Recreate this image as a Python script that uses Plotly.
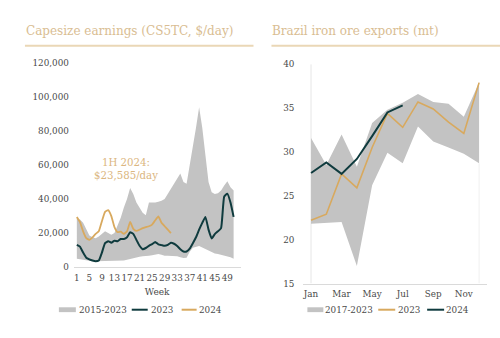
import plotly.graph_objects as go

# ---------------- Left chart: Capesize earnings (CS5TC, $/day) ----------------
weeks = list(range(1, 52))
week_ticks = list(range(1, 50, 4))
earn_tickvals = [0, 20000, 40000, 60000, 80000, 100000, 120000]

band_2015_2023_low = [4800, 4500, 4200, 3800, 3500, 3400, 3400, 3400, 3400, 3400,
                      3400, 3400, 3500, 3600, 3700, 3800, 4300, 4800, 5200, 5700,
                      6000, 6300, 6700, 6700, 6900, 7300, 7600, 7200, 6700, 6700,
                      6700, 6700, 6300, 5700, 5300, 5500, 9000, 11400, 12000, 12400,
                      11500, 10500, 9500, 8600, 8000, 7600, 7200, 6700, 6200, 5700,
                      4800]
band_2015_2023_high = [28600, 28000, 26000, 22000, 18500, 17500, 17000, 18000, 19500, 21000,
                       20000, 19000, 20000, 24000, 29000, 35000, 40000, 46500, 43000, 38000,
                       35000, 32000, 30500, 38000, 38000, 38000, 38500, 39000, 40000, 43000,
                       46000, 49500, 52000, 55000, 50000, 49000, 60000, 70000, 82000, 94000,
                       82000, 66000, 50000, 44000, 43000, 43500, 45000, 48000, 50500, 47000,
                       45000]
earn_2023 = [13000, 12000, 8500, 5500, 4500, 3800, 3400, 3800, 8500, 14000,
             15200, 14300, 15500, 15200, 16500, 16500, 17500, 20500, 19500, 16000,
             12500, 10500, 11200, 12500, 13500, 14800, 13300, 12900, 12500, 13000,
             14300, 13700, 12400, 10500, 9100, 9100, 10800, 14000, 17500, 22000,
             26000, 29500, 22000, 16800, 19400, 21000, 22900, 41500, 43200, 38000,
             29500]
weeks_2024 = list(range(1, 32))
earn_2024 = [29500, 26500, 21000, 17000, 16000, 17500, 19500, 21000, 27000, 32500,
             33500, 30000, 23500, 20500, 20800, 19500, 21000, 26500, 22500, 21300,
             22000, 22900, 23500, 24000, 25000, 27500, 29800, 26000, 24000, 22000,
             20000]

# ---------------- Right chart: Brazil iron ore exports (mt) ----------------
months = list(range(1, 13))
month_tickvals = [1, 3, 5, 7, 9, 11]
month_ticktext = ["Jan", "Mar", "May", "Jul", "Sep", "Nov"]
exports_tickvals = [15, 20, 25, 30, 35, 40]

band_2017_2023_low = [21.8, 21.9, 22.0, 17.0, 26.2, 29.9, 28.7, 32.9, 31.2, 30.5, 29.8, 28.7]
band_2017_2023_high = [31.6, 28.5, 32.0, 28.3, 33.3, 34.8, 35.6, 36.6, 35.7, 35.5, 34.0, 37.9]
exports_2023 = [22.2, 22.9, 27.5, 25.9, 30.5, 34.4, 32.8, 35.7, 34.9, 33.4, 32.1, 37.9]
months_2024 = list(range(1, 8))
exports_2024 = [27.6, 28.8, 27.5, 29.2, 31.8, 34.5, 35.3]

# ---------------- Styles ----------------
GREY = "#c3c3c3"
DARK = "#0f3b3e"
GOLD = "#d8a95e"
TAN = "#d9bd92"
TXT = "#4a4a4a"
FONT = "DejaVu Serif"

fig = go.Figure()

# left band
fig.add_trace(go.Scatter(x=weeks, y=band_2015_2023_low, mode="lines",
                         line=dict(width=0, color=GREY), showlegend=False,
                         hoverinfo="skip", xaxis="x", yaxis="y"))
fig.add_trace(go.Scatter(x=weeks, y=band_2015_2023_high, mode="lines", name="2015-2023",
                         line=dict(width=0, color=GREY), fill="tonexty", fillcolor=GREY,
                         showlegend=False, xaxis="x", yaxis="y"))
fig.add_trace(go.Scatter(x=weeks, y=earn_2023, mode="lines", name="2023",
                         line=dict(width=2, color=DARK, shape="spline", smoothing=0.4),
                         showlegend=False, xaxis="x", yaxis="y"))
fig.add_trace(go.Scatter(x=weeks_2024, y=earn_2024, mode="lines", name="2024",
                         line=dict(width=1.8, color=GOLD, shape="spline", smoothing=0.4),
                         showlegend=False, xaxis="x", yaxis="y"))

# right band
fig.add_trace(go.Scatter(x=months, y=band_2017_2023_low, mode="lines",
                         line=dict(width=0, color=GREY), showlegend=False,
                         hoverinfo="skip", xaxis="x2", yaxis="y2"))
fig.add_trace(go.Scatter(x=months, y=band_2017_2023_high, mode="lines", name="2017-2023",
                         line=dict(width=0, color=GREY), fill="tonexty", fillcolor=GREY,
                         showlegend=False, xaxis="x2", yaxis="y2"))
fig.add_trace(go.Scatter(x=months, y=exports_2023, mode="lines", name="2023",
                         line=dict(width=1.6, color=GOLD),
                         showlegend=False, xaxis="x2", yaxis="y2"))
fig.add_trace(go.Scatter(x=months_2024, y=exports_2024, mode="lines", name="2024",
                         line=dict(width=2, color=DARK),
                         showlegend=False, xaxis="x2", yaxis="y2"))

W, H = 500, 338
def px(x):
    return x / W
def py(y):
    return (H - y) / H

tickfont = dict(family=FONT, size=8.8, color=TXT)

fig.update_layout(
    width=W, height=H,
    margin=dict(l=0, r=0, t=0, b=0),
    paper_bgcolor="white", plot_bgcolor="white",
    showlegend=False,
    xaxis=dict(domain=[px(73), px(240)], range=[0.05, 53.2],
               tickmode="array", tickvals=week_ticks, tickangle=0,
               showgrid=False, zeroline=False, showline=True,
               linecolor="#dadada", linewidth=1, ticks="",
               tickfont=tickfont, ticklabelstandoff=2,
               title=dict(text="Week", font=dict(family=FONT, size=9, color=TXT), standoff=7)),
    yaxis=dict(domain=[py(270), py(60)], range=[0, 120000],
               tickmode="array", tickvals=earn_tickvals, tickformat=",d",
               showgrid=False, zeroline=False, showline=False, ticks="",
               tickfont=tickfont, ticklabelstandoff=4),
    xaxis2=dict(domain=[px(303), px(487)], range=[0.5, 12.52], anchor="y2",
                tickmode="array", tickvals=month_tickvals, ticktext=month_ticktext,
                tickangle=0,
                showgrid=False, zeroline=False, showline=True,
                linecolor="#dadada", linewidth=1, ticks="",
                tickfont=tickfont, ticklabelstandoff=2),
    yaxis2=dict(domain=[py(287), py(61)], range=[15, 40], anchor="x2",
                tickmode="array", tickvals=exports_tickvals,
                showgrid=False, zeroline=False, showline=False, ticks="",
                tickfont=tickfont, ticklabelstandoff=8),
)

shapes = []
# title underlines
shapes.append(dict(type="line", xref="paper", yref="paper", x0=px(24), x1=px(253),
                   y0=py(42), y1=py(42), line=dict(color="#ead7b6", width=2)))
shapes.append(dict(type="line", xref="paper", yref="paper", x0=px(271), x1=px(500),
                   y0=py(42), y1=py(42), line=dict(color="#ead7b6", width=2)))
# faint verticals on right chart
shapes.append(dict(type="line", xref="x2", yref="y2", x0=1, x1=1, y0=15, y1=40,
                   line=dict(color="#e6e6e6", width=1), layer="below"))
shapes.append(dict(type="line", xref="x2", yref="y2", x0=12, x1=12, y0=15, y1=28.7,
                   line=dict(color="#f0f0f0", width=1), layer="below"))

# manual legends
LY = 314
def legend_rect(x0, x1):
    shapes.append(dict(type="rect", xref="paper", yref="paper", x0=px(x0), x1=px(x1),
                       y0=py(LY + 2.5), y1=py(LY - 2.5), fillcolor=GREY,
                       line=dict(width=0)))
def legend_line(x0, x1, color):
    shapes.append(dict(type="line", xref="paper", yref="paper", x0=px(x0), x1=px(x1),
                       y0=py(LY), y1=py(LY), line=dict(color=color, width=2)))

legend_rect(58, 75)
legend_line(131, 147, DARK)
legend_line(181, 196, GOLD)
legend_rect(307, 323)
legend_line(378, 395, GOLD)
legend_line(427, 444, DARK)

annotations = []
def text(x, y, s, size=8.8, color=TXT, xanchor="left", **kw):
    annotations.append(dict(xref="paper", yref="paper", x=px(x), y=py(y), text=s,
                            showarrow=False, xanchor=xanchor, yanchor="middle",
                            font=dict(family=FONT, size=size, color=color), **kw))

text(76, LY, "2015-2023")
text(148, LY, "2023")
text(196, LY, "2024")
text(323, LY, "2017-2023")
text(396, LY, "2023")
text(444, LY, "2024")

# titles
text(23, 27, "Capesize earnings (CS5TC, $/day)", size=12.0, color=TAN)
text(270, 27, "Brazil iron ore exports (mt)", size=12.0, color=TAN)

# 1H 2024 annotation
annotations.append(dict(xref="paper", yref="paper", x=px(125), y=py(169.5),
                        text="1H 2024:<br>$23,585/day", showarrow=False,
                        xanchor="center", yanchor="middle", align="center",
                        font=dict(family=FONT, size=10.2, color="#dbb680")))

fig.update_layout(shapes=shapes, annotations=annotations)

fig.write_html("out.html")
